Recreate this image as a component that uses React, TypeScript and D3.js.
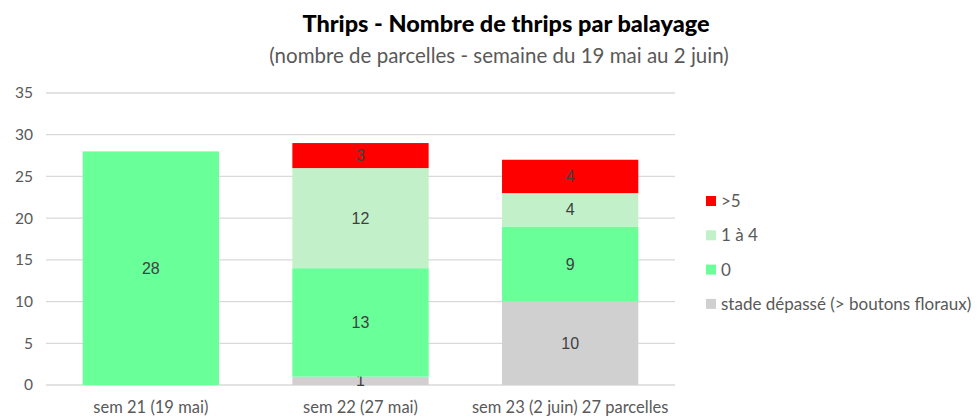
import React from "react";
import * as d3 from "d3";

const categories = ["sem 21 (19 mai)", "sem 22 (27 mai)", "sem 23 (2 juin) 27 parcelles"];
const seriesNames = ["stade dépassé (> boutons floraux)", "0", "1 à 4", ">5"];
const depasse = [0, 1, 10];
const zero = [28, 13, 9];
const unAQuatre = [0, 12, 4];
const plusCinq = [0, 3, 4];
const yTicks = [0, 5, 10, 15, 20, 25, 30, 35];
const colors = ["#D0D0D0", "#69FF99", "#C2F0C8", "#FF0000"];

const W = 977;
const H = 418;
const left = 46;
const right = 675;
const top = 93;
const bottom = 385;

export default function App() {
  const values = [depasse, zero, unAQuatre, plusCinq];
  const x = d3.scaleBand<string>().domain(categories).range([left, right]).paddingInner(0.35).paddingOuter(0.175);
  const y = d3.scaleLinear().domain([0, 35]).range([bottom, top]);
  const rows = categories.map((c, i) => {
    const o: any = { cat: c };
    seriesNames.forEach((s, k) => (o[s] = values[k][i]));
    return o;
  });
  const stacked = d3.stack<any>().keys(seriesNames)(rows);
  const legendOrder = [3, 2, 1, 0];
  return (
    <svg width={W} height={H} style={{ position: "absolute", left: 0, top: 0, background: "#fff" }}>
      <text x={506} y={32} textAnchor="middle" fontFamily="Lato, sans-serif" fontWeight={900} fontSize={23.5} fill="#000">
        Thrips - Nombre de thrips par balayage
      </text>
      <text x={499} y={63} textAnchor="middle" fontFamily="Lato, sans-serif" fontSize={20.5} fill="#595959">
        (nombre de parcelles - semaine du 19 mai au 2 juin)
      </text>
      {yTicks.map((t) => (
        <g key={t}>
          <line x1={left} x2={right} y1={y(t)} y2={y(t)} stroke="#D9D9D9" strokeWidth={1.3} />
          <text x={33} y={y(t)} dy="0.35em" textAnchor="end" fontFamily="Lato, sans-serif" fontSize={15.5} fill="#595959">
            {t}
          </text>
        </g>
      ))}
      {stacked.map((layer, k) =>
        layer.map((d, i) => {
          const v = d[1] - d[0];
          if (v <= 0) return null;
          const bx = x(categories[i])!;
          return (
            <g key={k + "-" + i}>
              <rect x={bx} width={x.bandwidth()} y={y(d[1])} height={y(d[0]) - y(d[1])} fill={colors[k]} />
              <text
                x={bx + x.bandwidth() / 2}
                y={(y(d[0]) + y(d[1])) / 2}
                dy="0.35em"
                textAnchor="middle"
                fontFamily="Liberation Sans, Arial, sans-serif"
                fontSize={16}
                fill="#404040"
              >
                {v}
              </text>
            </g>
          );
        })
      )}
      {categories.map((c) => (
        <text key={c} x={x(c)! + x.bandwidth() / 2} y={413} textAnchor="middle" fontFamily="Lato, sans-serif" fontSize={16.5} fill="#595959">
          {c}
        </text>
      ))}
      {legendOrder.map((k, j) => (
        <g key={k} transform={`translate(706, ${201 + j * 34.3})`}>
          <rect x={0} y={-5} width={10} height={10} fill={colors[k]} />
          <text x={15} y={0} dy="0.35em" fontFamily="Lato, sans-serif" fontSize={17} fill="#595959">
            {seriesNames[k]}
          </text>
        </g>
      ))}
    </svg>
  );
}
